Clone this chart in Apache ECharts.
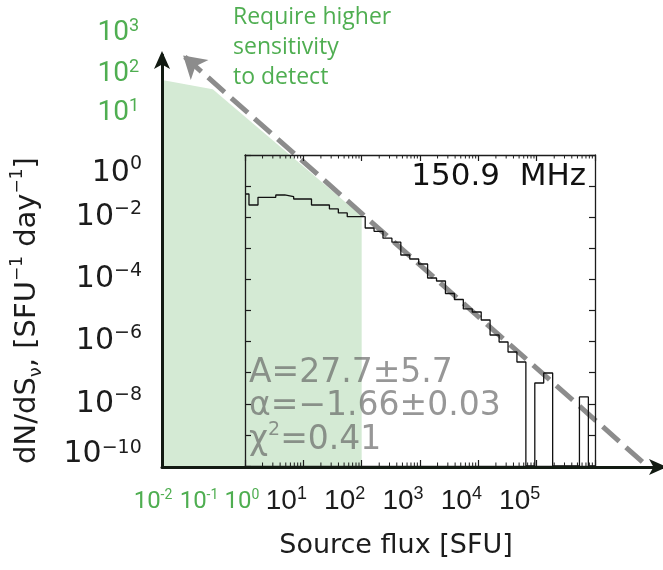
<!DOCTYPE html>
<html>
<head>
<meta charset="utf-8">
<script src="https://cdn.jsdelivr.net/npm/echarts@6/dist/echarts.min.js"></script>
<style>
  html, body { margin: 0; padding: 0; background: #fff; }
  #chart { width: 663px; height: 570px; }
</style>
</head>
<body>
<div id="chart"></div>
<script>
// Flux bin edges [SFU] of the event-rate histogram
const FLUX_EDGES = [1, 1.17, 1.67, 2.37, 3.37, 4.80, 6.83, 9.71, 13.8, 19.7, 28.0, 39.8,
  56.6, 80.5, 115, 163, 232, 330, 469, 668, 950, 1350, 1920, 2730, 3890, 5530, 7870,
  11200, 15900, 22700, 32300, 45900, 65300, 92900, 132000, 188000, 267000, 380000,
  541000, 770000, 1000000];
// dN/dS per bin [SFU^-1 day^-1]; 0 marks an empty bin
const DNDS = [0.0557, 0.0247, 0.0436, 0.0436, 0.0518, 0.0456, 0.0385, 0.0385, 0.0247,
  0.0247, 0.0184, 0.0137, 0.0104, 0.0104, 0.0045, 0.00352, 0.00211, 0.00157, 6.09e-4,
  4.53e-4, 3.13e-4, 1.11e-4, 8.88e-5, 3.52e-5, 2.26e-5, 1.12e-5, 8.95e-6, 4.95e-6,
  1.63e-6, 9.7e-7, 4.63e-7, 2.21e-7, 0, 4.67e-8, 9.77e-8, 0, 0, 0, 1.66e-8, 0];

// Power-law fit dN/dS = A * S^alpha
const FIT_A = 27.7, FIT_A_ERR = 5.7;
const FIT_ALPHA = -1.66, FIT_ALPHA_ERR = 0.03;
const FIT_CHI2 = 0.41;
const FIT_FLUX_SPAN = [6.5e6, 0.087];   // extended line, drawn toward low flux

// Region below the sensitivity limit (shaded)
const SENS_FLUX = [0.038, 0.28, 100];
const SENS_DNDS = [260, 130, 0.011];

// Axis ranges and tick labels (exponents of ten)
const X_RANGE = [1, 1e6];
const Y_RANGE = [1e-10, 1];
const X_TICK_EXP = [1, 2, 3, 4, 5];
const Y_TICK_EXP = [0, -2, -4, -6, -8, -10];
const EXT_X_TICK_EXP = ['-2', '-1', '0'];
const EXT_Y_TICK_EXP = ['3', '2', '1'];
const FREQ_LABEL = '150.9  MHz';
const NOTE_LINES = ['Require higher', 'sensitivity', 'to detect'];

const GREEN = '#4fae51';
const INK = '#1c1c1c';

// Pixel layout of the histogram frame and of the outer axes
const FRAME = { left: 245, top: 155, width: 350, height: 311 };
const OUTER = { left: 162, top: 55, right: 663, bottom: 467 };
const pxDecX = FRAME.width / Math.log10(X_RANGE[1] / X_RANGE[0]);
const pxDecY = FRAME.height / Math.log10(Y_RANGE[1] / Y_RANGE[0]);
const outerX = [X_RANGE[0] * Math.pow(10, (OUTER.left - FRAME.left) / pxDecX),
                X_RANGE[0] * Math.pow(10, (OUTER.right - FRAME.left) / pxDecX)];
const outerY = [Y_RANGE[1] * Math.pow(10, -(OUTER.bottom - FRAME.top) / pxDecY),
                Y_RANGE[1] * Math.pow(10, (FRAME.top - OUTER.top) / pxDecY)];

const minusSign = (e) => String(e).replace('-', '\u2212');
const expOf = (v) => Math.round(Math.log10(v));

// Histogram as a stepped line over bin edges
const histData = DNDS.map((v, i) => [FLUX_EDGES[i], v > 0 ? v : Y_RANGE[0]]);
histData.push([FLUX_EDGES[FLUX_EDGES.length - 1], histData[histData.length - 1][1]]);

const fitLine = FIT_FLUX_SPAN.map(s => [s, FIT_A * Math.pow(s, FIT_ALPHA)]);
const shade = SENS_FLUX.map((s, i) => [s, SENS_DNDS[i]]);

// Logarithmic minor ticks (2..9 per decade)
const minorTicks = [];
for (let e = Math.log10(X_RANGE[0]); e < Math.log10(X_RANGE[1]); e++) {
  for (let d = 2; d <= 9; d++) minorTicks.push([d * Math.pow(10, e), Y_RANGE[0]]);
}

const DV = 'DejaVu Sans';
const yRich = {
  b: { fontFamily: DV, fontSize: 30, lineHeight: 36, color: INK },
  s: { fontFamily: DV, fontSize: 19, lineHeight: 20, verticalAlign: 'top', color: INK },
  bt: { fontFamily: DV, fontSize: 30, lineHeight: 36, verticalAlign: 'top', color: INK },
  gap: { fontSize: 1, lineHeight: 54 }
};
const xRich = {
  b: { fontFamily: 'Liberation Sans', fontSize: 28, lineHeight: 32, color: INK },
  s: { fontFamily: 'Liberation Sans', fontSize: 18, lineHeight: 18, verticalAlign: 'top', color: INK }
};

const frameAxisBase = {
  type: 'log', gridIndex: 0, z: 8,
  axisLine: { show: true, lineStyle: { color: INK, width: 1.3 } },
  axisTick: { show: true, inside: true, length: 6, lineStyle: { color: INK, width: 1.2 } },
  splitLine: { show: false },
  minorTick: { show: false }
};

const chart = echarts.init(document.getElementById('chart'));

const option = {
  animation: false,
  backgroundColor: '#fff',
  grid: [
    { left: FRAME.left, top: FRAME.top, width: FRAME.width, height: FRAME.height },
    { left: OUTER.left, top: OUTER.top, width: OUTER.right - OUTER.left, height: OUTER.bottom - OUTER.top }
  ],
  xAxis: [
    Object.assign({}, frameAxisBase, {
      position: 'bottom', min: X_RANGE[0], max: X_RANGE[1], interval: 1, splitNumber: 6,
      axisLabel: {
        show: true, margin: 19, padding: [0, 34, 0, 0],
        formatter: (v) => X_TICK_EXP.includes(expOf(v)) ? '{b|10}{s|' + minusSign(expOf(v)) + '}' : '',
        rich: xRich
      },
      name: 'Source flux [SFU]', nameLocation: 'middle', nameGap: 66,
      nameTextStyle: { fontFamily: DV, fontSize: 27, color: INK, padding: [0, 48, 0, 0] }
    }),
    {
      type: 'log', gridIndex: 1, min: outerX[0], max: outerX[1], z: 10,
      axisLine: { show: true, symbol: ['none', 'arrow'], symbolSize: [12, 18], symbolOffset: [0, 4],
        lineStyle: { color: '#121a12', width: 3 } },
      axisTick: { show: false }, axisLabel: { show: false }, splitLine: { show: false }
    },
    Object.assign({}, frameAxisBase, {
      position: 'top', min: X_RANGE[0], max: X_RANGE[1], interval: 1, splitNumber: 6,
      axisLabel: { show: false }
    })
  ],
  yAxis: [
    Object.assign({}, frameAxisBase, {
      position: 'left', min: Y_RANGE[0], max: Y_RANGE[1], interval: 1, splitNumber: 10,
      axisLabel: {
        show: true, margin: 103,
        verticalAlignMaxLabel: 'top',
        formatter: (v) => {
          const e = expOf(v);
          if (!Y_TICK_EXP.includes(e)) return '';
          // lowest label sits a little above its tick
          return e === Y_TICK_EXP[Y_TICK_EXP.length - 1]
            ? '{bt|10}{s|' + minusSign(e) + '}{gap| }'
            : '{b|10}{s|' + minusSign(e) + '}';
        },
        rich: yRich
      },
      name: '{b|dN/dS}{sub|\u03bd}{b|, [SFU}{s|\u22121}{b| day}{s|\u22121}{b|]}',
      nameLocation: 'middle', nameGap: 200, nameRotate: 90,
      nameTextStyle: {
        rich: {
          b: { fontFamily: DV, fontSize: 29, lineHeight: 36, color: INK },
          s: { fontFamily: DV, fontSize: 17, lineHeight: 18, verticalAlign: 'top', color: INK },
          sub: { fontFamily: DV, fontSize: 18, lineHeight: 18, verticalAlign: 'bottom', color: INK }
        }
      }
    }),
    {
      type: 'log', gridIndex: 1, min: outerY[0], max: outerY[1], z: 10,
      axisLine: { show: true, symbol: ['none', 'arrow'], symbolSize: [12, 18], symbolOffset: [0, 4],
        lineStyle: { color: '#121a12', width: 3 } },
      axisTick: { show: false }, axisLabel: { show: false }, splitLine: { show: false }
    },
    Object.assign({}, frameAxisBase, {
      position: 'right', min: Y_RANGE[0], max: Y_RANGE[1], interval: 1, splitNumber: 10,
      axisLabel: { show: false }
    })
  ],
  series: [
    {
      // shaded region below the detection limit
      type: 'line', xAxisIndex: 1, yAxisIndex: 1, data: shade,
      symbol: 'none', silent: true, z: 1, clip: false,
      lineStyle: { width: 0 },
      areaStyle: { color: '#d4ead4', opacity: 1, origin: 'start' }
    },
    {
      // extended power-law fit with arrow toward low flux
      type: 'line', xAxisIndex: 1, yAxisIndex: 1, data: fitLine,
      symbol: 'none', silent: true, z: 3, clip: false,
      lineStyle: { opacity: 0 },
      markLine: {
        silent: true, animation: false,
        symbol: ['none', 'arrow'], symbolSize: [20, 22],
        label: { show: false },
        lineStyle: { color: '#8c8c8c', width: 5, type: [22, 9], opacity: 1 },
        emphasis: { disabled: true },
        data: [[{ coord: fitLine[0] }, { coord: fitLine[1] }]]
      }
    },
    {
      type: 'line', xAxisIndex: 0, yAxisIndex: 0, data: histData, step: 'end',
      symbol: 'none', silent: true, z: 5,
      lineStyle: { color: '#111', width: 1.3 }
    },
    {
      type: 'custom', xAxisIndex: 0, yAxisIndex: 0, data: minorTicks, silent: true, z: 9, clip: false,
      renderItem: (params, api) => {
        const x = api.value(0);
        const b = api.coord([x, Y_RANGE[0]]);
        const t = api.coord([x, Y_RANGE[1]]);
        const len = 3.5;
        return {
          type: 'group', children: [
            { type: 'line', shape: { x1: b[0], y1: b[1], x2: b[0], y2: b[1] - len }, style: { stroke: INK, lineWidth: 1 } },
            { type: 'line', shape: { x1: t[0], y1: t[1], x2: t[0], y2: t[1] + len }, style: { stroke: INK, lineWidth: 1 } }
          ]
        };
      }
    }
  ],
  graphic: []
};

const g = [];
// extended (schematic) tick labels in green
const gRichY = {
  b: { fontFamily: 'Roboto', fontSize: 28, lineHeight: 32, fill: GREEN },
  s: { fontFamily: 'Roboto', fontSize: 18, lineHeight: 18, verticalAlign: 'top', fill: GREEN }
};
const extYPos = [33, 74, 113];
EXT_Y_TICK_EXP.forEach((e, i) => {
  g.push({ type: 'text', x: 139, y: extYPos[i], z: 20, silent: true,
    style: { text: '{b|10}{s|' + e + '}', rich: gRichY, align: 'right', verticalAlign: 'middle' } });
});
const gRichX = {
  b: { fontFamily: 'Roboto', fontSize: 24, lineHeight: 28, fill: GREEN },
  s: { fontFamily: 'Roboto', fontSize: 14, lineHeight: 14, verticalAlign: 'top', fill: GREEN }
};
const extXPos = [153, 199, 242];
EXT_X_TICK_EXP.forEach((e, i) => {
  g.push({ type: 'text', x: extXPos[i], y: 502, z: 20, silent: true,
    style: { text: '{b|10}{s|' + e + '}', rich: gRichX, align: 'center', verticalAlign: 'middle' } });
});
NOTE_LINES.forEach((line, i) => {
  g.push({ type: 'text', x: 233, y: 17 + i * 30, z: 20, silent: true,
    style: { text: line, fill: GREEN, font: '500 23px "Open Sans"', align: 'left', verticalAlign: 'middle' } });
});
g.push({ type: 'text', x: 586, y: 177, z: 20, silent: true,
  style: { text: FREQ_LABEL, fill: '#111', font: '31px "DejaVu Sans"', align: 'right', verticalAlign: 'middle' } });

const noteFill = 'rgba(95,95,95,0.65)';
const fitRich = {
  b: { fontFamily: DV, fontSize: 33, lineHeight: 38, fill: noteFill },
  s: { fontFamily: DV, fontSize: 19, lineHeight: 20, verticalAlign: 'top', fill: noteFill }
};
const fitLines = [
  '{b|A=' + FIT_A.toFixed(1) + '\u00b1' + FIT_A_ERR.toFixed(1) + '}',
  '{b|\u03b1=\u2212' + Math.abs(FIT_ALPHA).toFixed(2) + '\u00b1' + FIT_ALPHA_ERR.toFixed(2) + '}',
  '{b|\u03c7}{s|2}{b|=' + FIT_CHI2.toFixed(2) + '}'
];
const fitY = [373, 406, 440];
fitLines.forEach((t, i) => {
  g.push({ type: 'text', x: 249, y: fitY[i], z: 20, silent: true,
    style: { text: t, rich: fitRich, align: 'left', verticalAlign: 'middle' } });
});
option.graphic = g;

chart.setOption(option);
</script>
</body>
</html>
